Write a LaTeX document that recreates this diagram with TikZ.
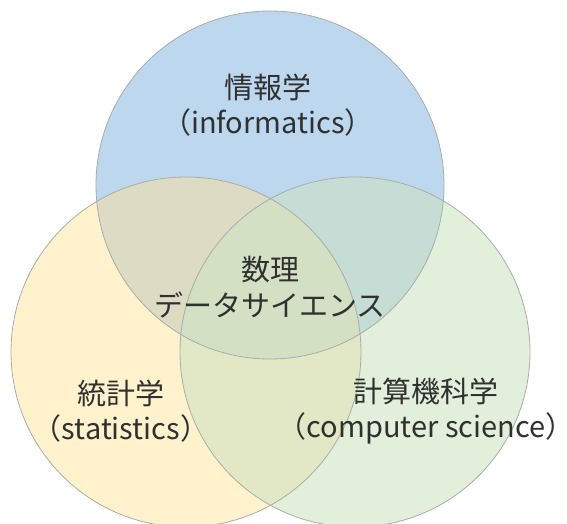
\documentclass[tikz,border=0pt]{standalone}
\usepackage{fontspec}
\setmainfont{Noto Sans CJK JP}
\definecolor{cB}{HTML}{BDD7EE}
\definecolor{cY}{HTML}{FFF2CC}
\definecolor{cG}{HTML}{E2EFDA}
\definecolor{cBY}{HTML}{DDDBC4}
\definecolor{cBG}{HTML}{C5DDD4}
\definecolor{cYG}{HTML}{E2E8C6}
\definecolor{cBYG}{HTML}{D4E0C3}
\definecolor{edgec}{HTML}{A8ADA8}
\definecolor{txt}{HTML}{303030}
\begin{document}
\begin{tikzpicture}[x=1pt,y=-1pt,
  lbl/.style={align=center, font=\fontsize{29}{35.5}\selectfont, text=txt, inner sep=0pt},
  rim/.style={draw=edgec, line width=0.8pt}]
\clip (0,0) rectangle (567,524);
\coordinate (cb) at (270,185);
\coordinate (cy) at (186,352);
\coordinate (cg) at (355,352);
% single circles
\fill[cB] (cb) circle[radius=174];
\fill[cY] (cy) circle[radius=175];
\fill[cG] (cg) circle[radius=175];
% pairwise overlaps
\begin{scope}
  \clip (cb) circle[radius=174];
  \fill[cBY] (cy) circle[radius=175];
\end{scope}
\begin{scope}
  \clip (cb) circle[radius=174];
  \fill[cBG] (cg) circle[radius=175];
\end{scope}
\begin{scope}
  \clip (cy) circle[radius=175];
  \fill[cYG] (cg) circle[radius=175];
\end{scope}
% triple overlap
\begin{scope}
  \clip (cb) circle[radius=174];
  \clip (cy) circle[radius=175];
  \fill[cBYG] (cg) circle[radius=175];
\end{scope}
% outlines
\draw[rim] (cb) circle[radius=174];
\draw[rim] (cy) circle[radius=175];
\draw[rim] (cg) circle[radius=175];
% labels
\node[lbl] (info) at (268,105) {情報学\\（informatics）};
\node[lbl] (ds) at (270,287) {数理\\データサイエンス};
\node[lbl] (stat) at (121,411) {統計学\\（statistics）};
\node[lbl] (cs) at (426,411) {計算機科学\\（computer science）};
\end{tikzpicture}
\end{document}
